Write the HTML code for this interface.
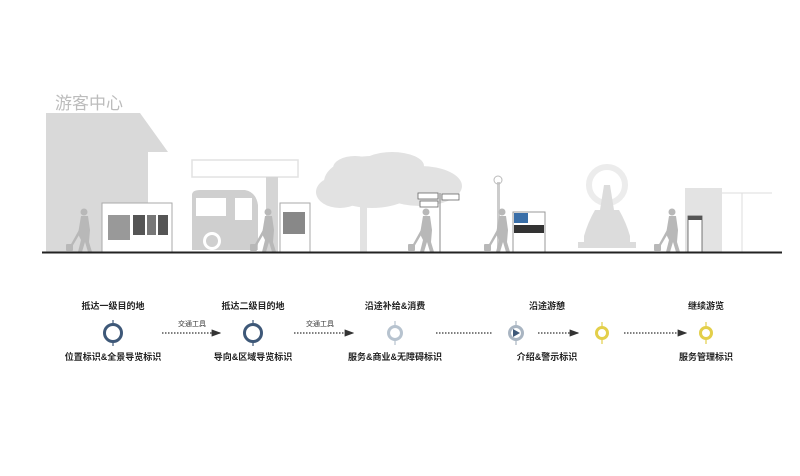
<!DOCTYPE html>
<html><head><meta charset="utf-8"><style>
html,body{margin:0;padding:0;background:#fff;width:800px;height:476px;overflow:hidden}
svg{display:block}
text{font-family:"Liberation Sans","Noto Sans CJK SC",sans-serif}
</style></head><body>
<svg width="800" height="476" viewBox="0 0 800 476" xmlns="http://www.w3.org/2000/svg">
<defs>
<g id="person" fill="#b8b8b8">
<circle cx="0" cy="-40" r="3.5"/>
<path d="M-3,-36 L4,-36 L6,-22 L5,-10 L8,0 L4,0 L1,-10 L-2,0 L-6,0 L-3,-12 L-6,-18 Z"/>
<path d="M-4,-24 L-14,-6 L-12,-5 L-2,-22 Z"/>
<rect x="-18" y="-8" width="7" height="7" rx="1"/>
</g>
<marker id="ah" markerWidth="8" markerHeight="6" refX="7" refY="3" orient="auto"><path d="M0,0 L8,3 L0,6 Z" fill="#333"/></marker>
</defs>
<text x="55" y="109" font-size="17" fill="#bcbcbc">游客中心</text>
<path d="M46,113 L140,113 L168,152 L148,152 L148,252 L46,252 Z" fill="#d9d9d9"/>
<rect x="192" y="160" width="106" height="17" fill="none" stroke="#e2e2e2" stroke-width="1.5"/>
<rect x="266" y="177" width="12" height="75" fill="#d5d5d5"/>
<path d="M192,195 Q192,190 200,190 L245,190 Q256,192 258,205 L258,250 L192,250 Z" fill="#cfcfcf"/>
<rect x="196" y="198" width="30" height="18" fill="#fff"/>
<rect x="235" y="198" width="17" height="22" fill="#fff"/>
<circle cx="212" cy="241" r="9" fill="#fff"/><circle cx="212" cy="241" r="6" fill="#cfcfcf"/>
<rect x="102" y="203" width="70" height="49" fill="#fff" stroke="#aaa"/>
<rect x="108" y="215" width="22" height="25" fill="#999"/>
<rect x="133" y="215" width="12" height="20" fill="#555"/><rect x="147" y="215" width="9" height="20" fill="#777"/><rect x="158" y="215" width="10" height="20" fill="#555"/>
<rect x="280" y="203" width="30" height="49" fill="#fff" stroke="#aaa"/>
<rect x="283" y="212" width="22" height="22" fill="#888"/>
<g fill="#e2e2e2">
<ellipse cx="372" cy="182" rx="48" ry="26"/>
<ellipse cx="340" cy="192" rx="24" ry="16"/>
<ellipse cx="420" cy="186" rx="42" ry="20"/>
<ellipse cx="392" cy="166" rx="32" ry="14"/>
<ellipse cx="355" cy="168" rx="22" ry="12"/>
<rect x="360" y="200" width="7" height="52"/>
</g>
<line x1="440" y1="193" x2="440" y2="252" stroke="#888" stroke-width="1"/>
<rect x="418" y="193" width="20" height="6" fill="#fff" stroke="#666" stroke-width=".8"/>
<rect x="420" y="201" width="18" height="6" fill="#fff" stroke="#666" stroke-width=".8"/>
<rect x="442" y="194" width="17" height="6" fill="#fff" stroke="#666" stroke-width=".8"/>
<rect x="497" y="182" width="3" height="70" fill="#ccc"/><circle cx="498" cy="180" r="4" fill="none" stroke="#bbb"/>
<rect x="513" y="212" width="32" height="40" fill="#fff" stroke="#999"/>
<rect x="514" y="213" width="14" height="10" fill="#3a6fa8"/>
<rect x="514" y="225" width="30" height="8" fill="#333"/>
<g fill="#dcdcdc">
<circle cx="607" cy="185" r="18" fill="none" stroke="#ececec" stroke-width="6"/>
<path d="M604,185 L610,185 L614,210 L600,210 Z"/>
<path d="M595,210 L619,210 Q626,222 630,236 L584,236 Q588,222 595,210 Z"/>
<rect x="584" y="236" width="46" height="6"/>
<rect x="578" y="242" width="58" height="6"/>
</g>
<rect x="685" y="188" width="37" height="64" fill="#e3e3e3"/>
<rect x="688" y="216" width="14" height="36" fill="#fff" stroke="#555" stroke-width=".8"/>
<rect x="688" y="216" width="14" height="4" fill="#555"/>
<path d="M722,193 L772,193 M742,193 L742,252" stroke="#ddd" fill="none"/>
<use href="#person" x="84" y="252"/>
<use href="#person" x="268" y="252"/>
<use href="#person" x="426" y="252"/>
<use href="#person" x="502" y="252"/>
<use href="#person" x="672" y="252"/>
<line x1="42" y1="252.5" x2="782" y2="252.5" stroke="#222" stroke-width="2"/>
<g font-size="9" font-weight="bold" fill="#222" text-anchor="middle">
<text x="113" y="309">抵达一级目的地</text>
<text x="253" y="309">抵达二级目的地</text>
<text x="395" y="309">沿途补给&amp;消费</text>
<text x="547" y="309">沿途游憩</text>
<text x="706" y="309">继续游览</text>
<text x="113" y="360">位置标识&amp;全景导览标识</text>
<text x="253" y="360">导向&amp;区域导览标识</text>
<text x="395" y="360">服务&amp;商业&amp;无障碍标识</text>
<text x="547" y="360">介绍&amp;警示标识</text>
<text x="706" y="360">服务管理标识</text>
</g>
<g font-size="7" fill="#333" text-anchor="middle">
<text x="192" y="326">交通工具</text>
<text x="320" y="326">交通工具</text>
</g>
<g stroke="#333" stroke-width="1.2" stroke-dasharray="1.5,1.5" fill="none">
<line x1="162" y1="333" x2="220" y2="333" marker-end="url(#ah)"/>
<line x1="294" y1="333" x2="353" y2="333" marker-end="url(#ah)"/>
<line x1="436" y1="333" x2="492" y2="333"/>
<line x1="538" y1="333" x2="578" y2="333" marker-end="url(#ah)"/>
<line x1="624" y1="333" x2="686" y2="333" marker-end="url(#ah)"/>
</g>
<g stroke-width="3" fill="#fff">
<g stroke="#3e5878"><line x1="113" y1="320" x2="113" y2="346" stroke-width="1.2"/><circle cx="113" cy="333" r="8.5"/></g>
<g stroke="#3e5878"><line x1="253" y1="320" x2="253" y2="346" stroke-width="1.2"/><circle cx="253" cy="333" r="8.5"/></g>
<g stroke="#b7c3cf"><line x1="395" y1="321" x2="395" y2="345" stroke-width="1.2"/><circle cx="395" cy="333" r="6.5"/></g>
<g stroke="#a9b5c2"><line x1="516" y1="321" x2="516" y2="345" stroke-width="1.2"/><circle cx="516" cy="333" r="6.5"/></g>
<path d="M513,329 L520,333 L513,337 Z" fill="#3e5878"/>
<g stroke="#e3cf4a"><line x1="602" y1="322" x2="602" y2="344" stroke-width="1.2"/><circle cx="602" cy="333" r="5.5"/></g>
<g stroke="#e3cf4a"><line x1="706" y1="322" x2="706" y2="344" stroke-width="1.2"/><circle cx="706" cy="333" r="5.5"/></g>
</g>
</svg>
</body></html>
